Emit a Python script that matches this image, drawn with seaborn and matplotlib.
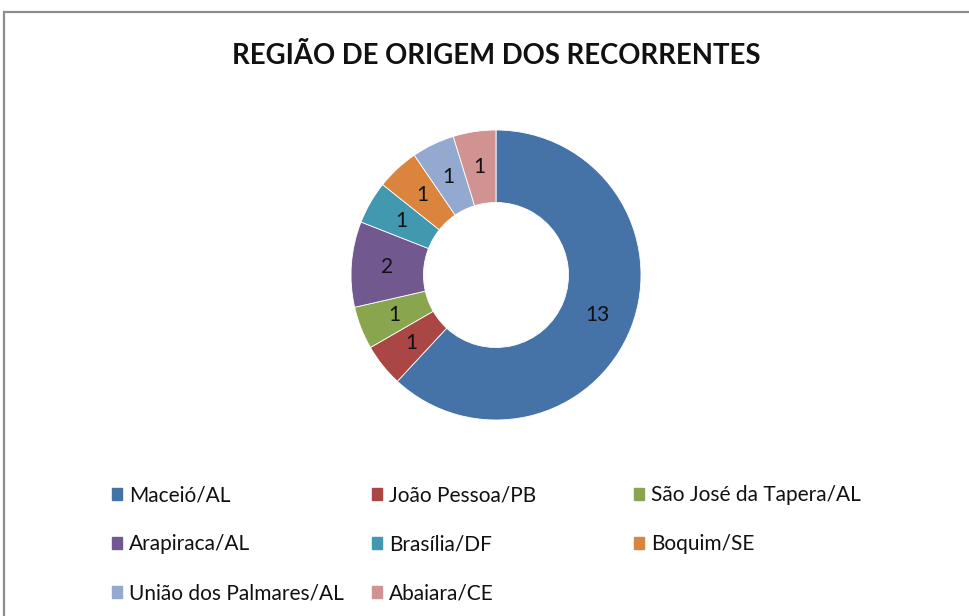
import matplotlib
matplotlib.use("Agg")
import matplotlib.pyplot as plt
import matplotlib.patches as mpatches
import seaborn as sns
import numpy as np

# data
regioes = ["Maceió/AL", "João Pessoa/PB", "São José da Tapera/AL", "Arapiraca/AL",
           "Brasília/DF", "Boquim/SE", "União dos Palmares/AL", "Abaiara/CE"]
recorrentes = [13, 1, 1, 2, 1, 1, 1, 1]
cores = ["#4572A7", "#AA4643", "#89A54E", "#71588F", "#4198AF", "#DB843D", "#93A9CF", "#D19392"]

sns.set_theme(style="white")
plt.rcParams["font.family"] = ["Lato", "DejaVu Sans"]

W, H = 970, 616
fig = plt.figure(figsize=(W / 100, H / 100), dpi=100)

# outer frame (gray line, cut off right/bottom like the screenshot)
fig.patches.append(mpatches.Rectangle((4 / W, -0.1), 1.2, (H - 12) / H + 0.1,
                                      transform=fig.transFigure, fill=False,
                                      edgecolor="#8c8c8c", linewidth=1.6))

fig.text(496 / W, 1 - 56 / H, "REGIÃO DE ORIGEM DOS RECORRENTES",
         ha="center", va="center", fontsize=19.8, fontweight="bold", color="#111111")

# donut
cx, cy, r = 496, 275, 145
ax = fig.add_axes([(cx - r) / W, 1 - (cy + r) / H, 2 * r / W, 2 * r / H])
pal = sns.color_palette(cores)
wedges, _ = ax.pie(recorrentes, colors=pal, startangle=90, counterclock=False,
                   radius=1, wedgeprops=dict(width=0.5, edgecolor="white", linewidth=0.6))
for w, v in zip(wedges, recorrentes):
    mid = np.deg2rad((w.theta1 + w.theta2) / 2)
    ax.text(0.75 * np.cos(mid), 0.75 * np.sin(mid), str(v), ha="center", va="center",
            fontsize=15, color="#111111")
ax.set_xlim(-1, 1)
ax.set_ylim(-1, 1)
ax.set_aspect("equal")
ax.axis("off")

# legend laid out row-wise in three columns like Excel
cols_x = [112, 372, 634]
rows_top = 485
for c, x in enumerate(cols_x):
    idx = list(range(c, len(regioes), 3))
    handles = [mpatches.Patch(color=pal[i]) for i in idx]
    labels = [regioes[i] for i in idx]
    leg = fig.legend(handles, labels, loc="upper left",
                     bbox_to_anchor=(x / W, 1 - rows_top / H), frameon=False,
                     fontsize=15, handlelength=0.5, handleheight=0.5,
                     handletextpad=0.3, labelspacing=1.4, borderpad=0, borderaxespad=0)
    for t in leg.get_texts():
        t.set_color("#111111")

fig.savefig("out.png", dpi=100, facecolor="white")
